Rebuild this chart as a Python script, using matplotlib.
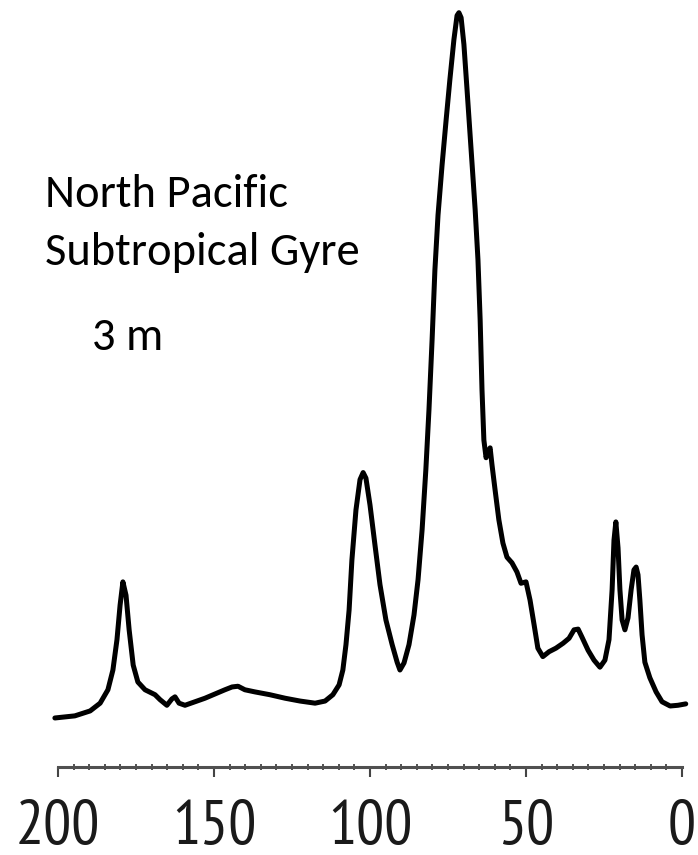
import numpy as np
import matplotlib.pyplot as plt
from matplotlib import font_manager as fm
from matplotlib.ticker import MultipleLocator

# chemical shift (ppm) and relative intensity of the spectrum trace
shift = [201.0, 194.6, 189.7, 186.5, 184.0, 182.4, 181.1, 180.1, 179.2, 178.2,
         177.2, 175.9, 174.4, 172.1, 168.9, 167.3, 165.1, 163.5, 162.5, 161.2,
         159.3, 156.1, 152.9, 149.7, 146.5, 144.2, 142.3, 140.1, 136.9, 132.1,
         127.2, 122.4, 117.6, 114.4, 111.9, 109.9, 108.7, 107.7, 106.7, 105.8,
         104.5, 103.2, 102.2, 101.3, 100.0, 98.4, 96.8, 94.9, 92.9, 91.3,
         90.4, 89.1, 87.5, 85.9, 84.6, 83.3, 82.1, 81.1, 80.1, 79.2,
         78.2, 76.9, 75.6, 74.4, 73.1, 72.1, 71.5, 70.8, 69.9, 68.9,
         67.6, 66.3, 65.4, 64.7, 64.1, 63.5, 62.8, 62.2, 61.5, 60.9,
         59.9, 58.7, 57.4, 56.1, 54.5, 52.9, 51.6, 50.0, 48.7, 47.4,
         46.2, 44.6, 42.6, 40.4, 38.1, 36.2, 34.6, 33.3, 32.1, 30.1,
         28.2, 26.3, 24.7, 23.4, 22.4, 21.8, 21.2, 20.5, 19.9, 19.2,
         18.3, 17.3, 16.3, 15.4, 14.7, 14.1, 13.5, 12.8, 11.9, 10.3,
         8.3, 6.4, 3.8, 1.3, -1.2]
intensity = [0.0, 0.3, 1.0, 2.1, 4.0, 6.8, 11.1, 16.0, 19.3, 17.4,
             12.5, 7.5, 5.1, 4.0, 3.3, 2.6, 1.8, 2.7, 3.0, 2.1,
             1.8, 2.3, 2.8, 3.4, 4.0, 4.4, 4.5, 4.0, 3.7, 3.3,
             2.8, 2.4, 2.1, 2.4, 3.3, 4.7, 6.8, 10.4, 15.3, 22.4,
             29.5, 33.8, 34.8, 34.0, 30.2, 24.5, 18.9, 13.9, 10.4, 7.9,
             6.8, 7.8, 10.4, 14.6, 19.6, 26.7, 35.2, 43.7, 53.6, 63.5,
             71.3, 78.4, 84.8, 90.5, 96.2, 99.6, 100.0, 99.3, 95.5, 89.1,
             80.6, 72.1, 65.0, 56.5, 46.5, 39.4, 36.9, 37.7, 38.3, 35.9,
             32.3, 28.1, 24.8, 22.8, 22.0, 20.7, 19.1, 19.3, 16.7, 13.2,
             9.9, 8.7, 9.4, 9.9, 10.6, 11.3, 12.5, 12.6, 11.5, 9.6,
             8.2, 7.2, 8.2, 11.1, 18.2, 25.2, 27.8, 24.1, 18.2, 13.9,
             12.5, 14.2, 18.2, 21.0, 21.4, 20.3, 16.7, 11.8, 7.9, 5.7,
             3.7, 2.3, 1.7, 1.8, 2.0]

tick_vals = [200, 150, 100, 50, 0]

installed = {f.name for f in fm.fontManager.ttflist}


def first_font(cands):
    for c in cands:
        if c in installed:
            return c
    return 'DejaVu Sans'


num_family = first_font(['PT Sans Narrow', 'Fira Sans Extra Condensed',
                         'Barlow Condensed', 'Roboto Condensed',
                         'Fira Sans Condensed', 'Archivo Narrow'])
txt_family = first_font(['Carlito', 'Lato', 'Open Sans'])

fig = plt.figure(figsize=(6.98, 8.55), dpi=100)
ax = fig.add_axes([58 / 698, (855 - 767) / 855, 624 / 698, 767 / 855])

ax.plot(shift, intensity, color='black', lw=3.6, solid_joinstyle='round',
        solid_capstyle='round', clip_on=False)

ax.set_xlim(200, 0)
ax.set_ylim(-6.95, 101.8)

for s in ['top', 'left', 'right']:
    ax.spines[s].set_visible(False)
ax.spines['bottom'].set_color('#505050')
ax.spines['bottom'].set_linewidth(2.2)
ax.set_yticks([])

ax.xaxis.set_minor_locator(MultipleLocator(5))
ax.set_xticks(tick_vals)
ax.set_xticklabels([str(v) for v in tick_vals])
ax.tick_params(axis='x', which='major', direction='out', length=7, width=1.5,
               color='#444444', pad=17, labelcolor='#1a1a1a')
ax.tick_params(axis='x', which='minor', direction='inout', length=5, width=1.3,
               color='#444444')
for lab in ax.get_xticklabels():
    lab.set_family([num_family, 'DejaVu Sans'])
    lab.set_fontsize(45)

txt = dict(family=[txt_family, 'DejaVu Sans'], fontsize=33.5, color='black',
           va='baseline', ha='left')
fig.text(45 / 698, (855 - 207) / 855, 'North Pacific', **txt)
fig.text(45 / 698, (855 - 265) / 855, 'Subtropical Gyre', **txt)
fig.text(92 / 698, (855 - 350) / 855, '3 m', **txt)

fig.savefig('out.png', dpi=100)
